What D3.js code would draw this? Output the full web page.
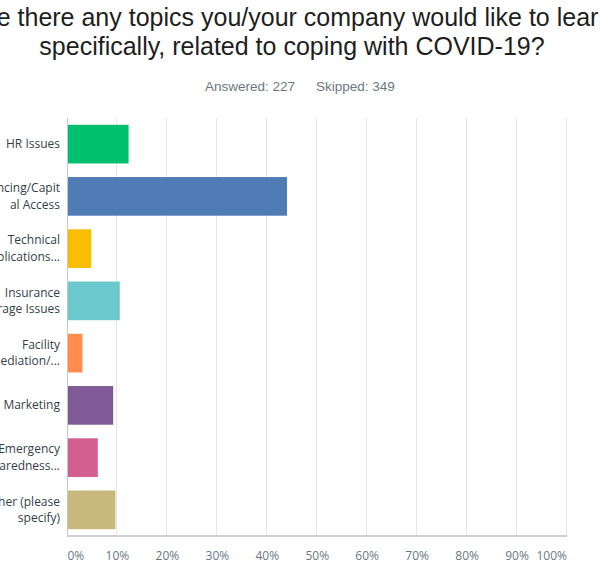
<!DOCTYPE html>
<html>
<head>
<meta charset="utf-8">
<script src="https://cdn.jsdelivr.net/npm/d3@7"></script>
<style>
  html, body { margin: 0; padding: 0; background: #fff; overflow: hidden; }
  svg { display: block; }
</style>
</head>
<body>
<svg id="chart" width="600" height="578"></svg>
<script>
const titleLines = ["Are there any topics you/your company would like to learn", "specifically, related to coping with COVID-19?"];
const subtitle = ["Answered: 227", "Skipped: 349"];
const categories = ["HR Issues", "Financing/Capital Access", "Technical Applications...", "Insurance Coverage Issues", "Facility Remediation/...", "Marketing", "Emergency Preparedness...", "Other (please specify)"];
const categoryLines = [["HR Issues"], ["Financing/Capit", "al Access"], ["Technical", "Applications..."], ["Insurance", "Coverage Issues"], ["Facility", "Remediation/..."], ["Marketing"], ["Emergency", "Preparedness..."], ["Other (please", "specify)"]];
const values = [0.1233, 0.4405, 0.0485, 0.1057, 0.0308, 0.0925, 0.0617, 0.0969];
const colors = ["#00bf6f", "#507cb6", "#f9be00", "#6bc8cd", "#ff8b4f", "#7f5a96", "#d25f90", "#c9b87b"];
const tickValues = [0, 0.1, 0.2, 0.3, 0.4, 0.5, 0.6, 0.7, 0.8, 0.9, 1.0];
const tickLabels = ["0%", "10%", "20%", "30%", "40%", "50%", "60%", "70%", "80%", "90%", "100%"];

const svg = d3.select("#chart");
const plot = { left: 67, right: 566.5, top: 118, bottom: 536 };

// Title
const title = svg.append("g").attr("font-family", "'Liberation Sans', Arial, sans-serif")
  .attr("font-size", 25).attr("fill", "#1e1e1e").attr("text-anchor", "middle");
title.selectAll("text").data(titleLines).join("text")
  .attr("x", 292).attr("y", (d, i) => 26 + i * 28.5).text(d => d);

const sub = svg.append("g").attr("font-family", "'Liberation Sans', Arial, sans-serif")
  .attr("font-size", 13.5).attr("fill", "#6b787f");
sub.append("text").attr("x", 205).attr("y", 91).text(subtitle[0]);
sub.append("text").attr("x", 316).attr("y", 91).text(subtitle[1]);

const x = d3.scaleLinear().domain([0, 1]).range([plot.left, plot.right]);
const y = d3.scaleBand().domain(categories).range([plot.top, plot.bottom]).paddingInner(0.26).paddingOuter(0.13);

// Gridlines
svg.append("g").selectAll("line").data(tickValues.slice(1)).join("line")
  .attr("x1", d => x(d)).attr("x2", d => x(d))
  .attr("y1", plot.top).attr("y2", plot.bottom)
  .attr("stroke", "#e6e6e6").attr("stroke-width", 1).attr("shape-rendering", "crispEdges");

// Bars
svg.append("g").selectAll("rect").data(categories).join("rect")
  .attr("x", x(0)).attr("y", d => y(d))
  .attr("width", (d, i) => x(values[i]) - x(0))
  .attr("height", y.bandwidth())
  .attr("fill", (d, i) => colors[i]);

// Axes lines
svg.append("line").attr("x1", plot.left).attr("x2", plot.left).attr("y1", plot.top).attr("y2", plot.bottom)
  .attr("stroke", "#c8c8c8").attr("shape-rendering", "crispEdges");
svg.append("line").attr("x1", plot.left).attr("x2", plot.right).attr("y1", plot.bottom).attr("y2", plot.bottom)
  .attr("stroke", "#cfcfcf").attr("stroke-width", 1.5).attr("shape-rendering", "crispEdges");

// X tick labels
const xAxis = d3.axisBottom(x).tickValues(tickValues).tickFormat((d, i) => tickLabels[i]).tickSize(0).tickPadding(0);
const gx = svg.append("g").attr("transform", `translate(0,${plot.bottom})`).call(xAxis);
gx.select(".domain").remove();
gx.selectAll("text")
  .attr("y", 24).attr("dy", 0)
  .attr("font-family", "'Open Sans', sans-serif").attr("font-size", 12).attr("fill", "#6b787f")
  .attr("text-anchor", (d, i) => i === 0 ? "start" : (i === tickValues.length - 1 ? "end" : "middle"));

// Y labels
const yl = svg.append("g").attr("font-family", "'Open Sans', sans-serif").attr("font-size", 12)
  .attr("fill", "#333e48").attr("text-anchor", "end");
categories.forEach((c, i) => {
  const lines = categoryLines[i];
  const cy = y(c) + y.bandwidth() / 2;
  const t = yl.append("text").attr("x", 60);
  lines.forEach((ln, j) => {
    t.append("tspan").attr("x", 60)
      .attr("y", cy + 4 + (j - (lines.length - 1) / 2) * 16.5)
      .text(ln);
  });
});
</script>
</body>
</html>
